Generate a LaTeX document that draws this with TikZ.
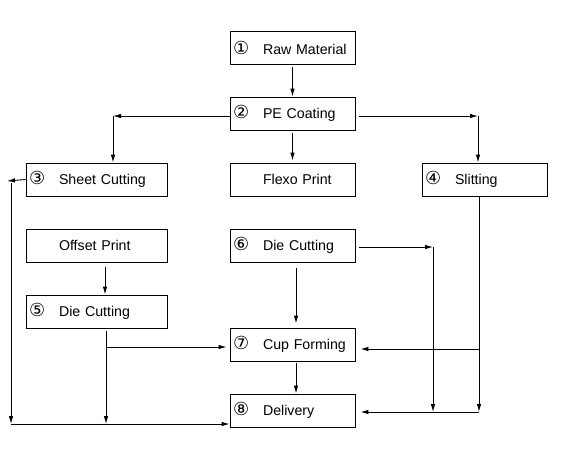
\documentclass[tikz,border=0pt]{standalone}
\usepackage{fontspec}
\setmainfont{Liberation Sans}
\newfontfamily\circfont{DejaVu Sans}
\usetikzlibrary{arrows.meta}
\tikzset{
  box/.style={draw,line width=0.9pt,minimum height=33pt,inner xsep=3pt,inner ysep=0pt,
    align=left,font=\fontsize{14.2}{16}\selectfont},
  midbox/.style={box,text width=119pt},
  widebox/.style={box,text width=135pt},
  flow/.style={-{Latex[length=8pt,width=4.5pt]},line width=0.9pt}
}
\newcommand{\stepno}[1]{\makebox[30pt][l]{\fontsize{18}{18}\circfont\raisebox{-0.5pt}{#1}}}
\begin{document}
\begin{tikzpicture}[x=1pt,y=-1pt]
	\useasboundingbox (0,0) rectangle (577,450);
	% process steps
	\node[midbox] (raw) at (292.5,48) {\stepno{①}Raw Material};
	\node[midbox] (coat) at (292.5,113.5) {\stepno{②}PE Coating};
	\node[widebox] (sheet) at (96.5,179.5) {\stepno{③}Sheet Cutting};
	\node[midbox] (flexo) at (292.5,179.5) {\stepno{}Flexo Print};
	\node[midbox] (slit) at (484.5,179.5) {\stepno{④}Slitting};
	\node[widebox] (offset) at (96.5,245.5) {\stepno{}Offset Print};
	\node[midbox] (die6) at (292.5,245.5) {\stepno{⑥}Die Cutting};
	\node[widebox] (die5) at (96.5,311.5) {\stepno{⑤}Die Cutting};
	\node[midbox] (cup) at (292.5,344.5) {\stepno{⑦}Cup Forming};
	\node[midbox] (deliv) at (292.5,410.5) {\stepno{⑧}Delivery};
	% turning points
	\coordinate (lt) at (113,116);
	\coordinate (rt) at (478,116);
	\coordinate (back) at (7,181);
	\coordinate (ltop) at (11,183);
	\coordinate (lbot) at (11,424);
	\coordinate (j5) at (106,347);
	\coordinate (b5) at (106,424);
	\coordinate (r6) at (433,247);
	\coordinate (r6b) at (433,412);
	\coordinate (sc) at (479,349);
	\coordinate (sd) at (479,412);
	% connectors
	\draw[flow,shorten <=2pt] (raw) -- (coat);
	\draw[flow] (coat.west |- lt) -- (lt);
	\draw[flow] (lt) -- (lt |- sheet.north);
	\draw[flow] ([xshift=4pt]coat.east |- rt) -- (rt);
	\draw[flow] (rt) -- (rt |- slit.north);
	\draw[flow,shorten <=3pt,shorten >=2pt] (coat) -- (flexo);
	\draw[flow] (sheet.west) -- (back);
	\draw[flow] (ltop) -- (lbot);
	\draw[flow] (lbot) -- (deliv.west |- lbot);
	\draw[flow,shorten <=5pt] ([xshift=8.5pt]offset.south) -- ([xshift=8.5pt]die5.north);
	\draw[flow,shorten <=3pt] (die5.south -| b5) -- (b5);
	\draw[flow] (j5) -- ([xshift=-3pt]cup.west |- j5);
	\draw[flow,shorten <=6pt,shorten >=4pt] ([xshift=3.5pt]die6.south) -- ([xshift=3.5pt]cup.north);
	\draw[flow] ([xshift=4pt]die6.east |- r6) -- (r6);
	\draw[flow] (r6) -- (r6b);
	\draw[flow] (slit.south -| sd) -- (sd);
	\draw[flow] (sc) -- ([xshift=5pt]cup.east |- sc);
	\draw[flow] (sd) -- ([xshift=5pt]deliv.east |- sd);
	\draw[flow,shorten <=2pt] ([xshift=3.5pt]cup.south) -- ([xshift=3.5pt]deliv.north);
\end{tikzpicture}
\end{document}
